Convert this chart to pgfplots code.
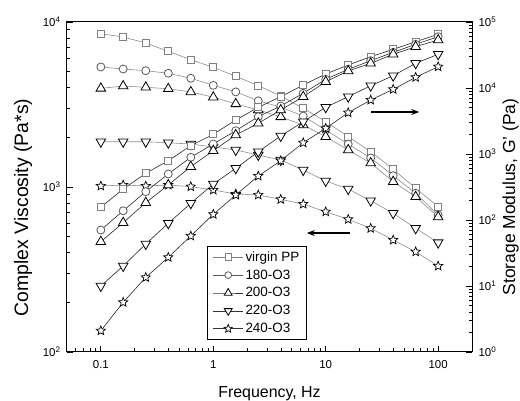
\documentclass[border=0pt]{standalone}
\usepackage{pgfplots}
\pgfplotsset{compat=1.18}
\usepackage{pgfplotstable}
\usepackage{fontspec}
\setmainfont{Liberation Sans}
\usetikzlibrary{calc,arrows.meta}

\pgfdeclareplotmark{ostar}{%
  \pgfpathmoveto{\pgfqpointpolar{90}{\pgfplotmarksize}}%
  \pgfpathlineto{\pgfqpointpolar{126}{0.45\pgfplotmarksize}}%
  \pgfpathlineto{\pgfqpointpolar{162}{\pgfplotmarksize}}%
  \pgfpathlineto{\pgfqpointpolar{198}{0.45\pgfplotmarksize}}%
  \pgfpathlineto{\pgfqpointpolar{234}{\pgfplotmarksize}}%
  \pgfpathlineto{\pgfqpointpolar{270}{0.45\pgfplotmarksize}}%
  \pgfpathlineto{\pgfqpointpolar{306}{\pgfplotmarksize}}%
  \pgfpathlineto{\pgfqpointpolar{342}{0.45\pgfplotmarksize}}%
  \pgfpathlineto{\pgfqpointpolar{18}{\pgfplotmarksize}}%
  \pgfpathlineto{\pgfqpointpolar{54}{0.45\pgfplotmarksize}}%
  \pgfpathclose
  \pgfusepathqfillstroke
}

\pgfplotstableread{
f pp c180 c200 c220 c240
0.1 8490 5340 3960 1880 1014
0.158 8110 5190 4090 1880 1028
0.251 7460 5070 4020 1880 1014
0.398 6640 4890 3940 1855 1028
0.631 5910 4560 3770 1820 1005
1 5310 4130 3500 1750 959
1.585 4690 3770 3190 1676 907
2.512 4110 3330 2930 1563 895
3.981 3560 3050 2660 1457 842
6.31 3000 2690 2375 1268 788
10 2490 2215 2018 1088 708
15.85 2020 1820 1676 972 637
25.12 1637 1500 1397 826 562
39.81 1280 1171 1077 693 477
63.1 982 916 873 562 405
100 760 676 658 460 332
}\visc

\pgfplotstableread{
f pp c180 c200 c220 c240
0.1 156 70.5 46.9 10 2.1
0.158 295 138 91 20.1 5.66
0.251 510 269 183 43.3 13.5
0.398 791 498 339 89.1 27.2
0.631 1337 891 643 179 57.3
1 1988 1419 1122 351 122
1.585 3273 2254 1941 607 239
2.512 5100 3673 2917 1084 464
3.981 7380 5336 4645 1874 791
6.31 11100 8318 7380 3083 1483
10 16300 13550 12450 5100 2449
15.85 22300 19190 18110 7380 4227
25.12 29800 25940 23660 10840 6577
39.81 38500 34750 32430 15350 9550
63.1 50300 45920 42270 23660 14520
100 65100 59840 53330 32430 21040
}\gmod

\pgfplotsset{
  mpp/.style={mark=square*, mark size=3.5bp, mark options={solid, fill=white, draw=black!50, line width=0.8bp}},
  m180/.style={mark=*, mark size=4bp, mark options={solid, fill=white, draw=black!65, line width=0.8bp}},
  m200/.style={mark=triangle*, mark size=5.5bp, mark options={solid, fill=white, draw=black, line width=0.8bp}},
  m220/.style={mark=triangle*, mark size=5.5bp, mark options={solid, fill=white, draw=black, line width=0.8bp, rotate=180}},
  m240/.style={mark=ostar, mark size=4.8bp, mark options={solid, fill=white, draw=black, line width=0.7bp}},
  vline/.style={draw=black!45, line width=0.6bp},
  gline/.style={draw=black!85, line width=0.6bp},
}

\begin{document}
\begin{tikzpicture}
\begin{axis}[
  name=ax1,
  scale only axis, width=405bp, height=330bp,
  xmode=log, ymode=log,
  xmin=0.05, xmax=200, ymin=100, ymax=10000,
  axis line style={line width=1bp},
  tick align=inside,
  xtick pos=lower, ytick pos=lower,
  xtick={0.1,1,10,100}, xticklabels={0.1,1,10,100},
  minor xtick={0.06,0.07,0.08,0.09,0.2,0.3,0.4,0.5,0.6,0.7,0.8,0.9,2,3,4,5,6,7,8,9,20,30,40,50,60,70,80,90},
  ytick={100,1000,10000},
  yticklabels={10\textsuperscript{2},10\textsuperscript{3},10\textsuperscript{4}},
  minor ytick={200,300,400,500,600,700,800,900,2000,3000,4000,5000,6000,7000,8000,9000},
  major tick length=6bp, minor tick length=3.5bp,
  every tick/.style={black, line width=0.8bp},
  tick label style={font=\fontsize{11.5}{13}\selectfont},
  xticklabel style={yshift=-5bp},
  yticklabel style={xshift=-3bp},
  clip=false,
]
\addplot[vline, mpp] table[x=f, y=pp] {\visc};
\addplot[vline, m180] table[x=f, y=c180] {\visc};
\addplot[vline, m200] table[x=f, y=c200] {\visc};
\addplot[vline, m220] table[x=f, y=c220] {\visc};
\addplot[vline, m240] table[x=f, y=c240] {\visc};
\draw[-{Stealth[length=8bp,width=6bp]}, line width=1.8bp] (axis cs:25.5,2848) -- (axis cs:67.9,2848);
\draw[-{Stealth[length=8bp,width=6bp]}, line width=1.8bp] (axis cs:16.3,526) -- (axis cs:6.79,526);
\node[rotate=90, font=\fontsize{19.5}{22}\selectfont, inner sep=0pt] at ([xshift=-44bp]rel axis cs:0,0.438) {Complex Viscosity (Pa*s)};
\node[font=\fontsize{16}{18}\selectfont, inner sep=0pt, anchor=base] at ([yshift=-46bp]rel axis cs:0.5,0) {Frequency, Hz};
\end{axis}
\begin{axis}[
  scale only axis, width=405bp, height=330bp,
  xmode=log, ymode=log,
  xmin=0.05, xmax=200, ymin=1, ymax=100000,
  hide x axis,
  axis y line*=right,
  axis line style={line width=1bp},
  tick align=inside,
  ytick={1,10,100,1000,10000,100000},
  yticklabels={10\textsuperscript{0},10\textsuperscript{1},10\textsuperscript{2},10\textsuperscript{3},10\textsuperscript{4},10\textsuperscript{5}},
  minor ytick={2,3,4,5,6,7,8,9,20,30,40,50,60,70,80,90,200,300,400,500,600,700,800,900,2000,3000,4000,5000,6000,7000,8000,9000,20000,30000,40000,50000,60000,70000,80000,90000},
  major tick length=6bp, minor tick length=3.5bp,
  every tick/.style={black, line width=0.8bp},
  tick label style={font=\fontsize{11.5}{13}\selectfont},
  yticklabel style={xshift=3bp},
  clip=false,
  legend style={at={(rel axis cs:0.3457,0.321)}, anchor=north west, draw=black, line width=0.8bp, fill=white,
    font=\fontsize{13.5}{15}\selectfont, row sep=3bp, inner xsep=5.5bp, inner ysep=3bp},
  legend cell align=left,
  legend image code/.code={\draw[#1, mark repeat=2, mark phase=2] plot coordinates {(0bp,0bp) (15bp,0bp) (30bp,0bp)};},
]
\addplot[gline, mpp, forget plot] table[x=f, y=pp] {\gmod};
\addplot[gline, m180, forget plot] table[x=f, y=c180] {\gmod};
\addplot[gline, m200, forget plot] table[x=f, y=c200] {\gmod};
\addplot[gline, m220, forget plot] table[x=f, y=c220] {\gmod};
\addplot[gline, m240, forget plot] table[x=f, y=c240] {\gmod};
\addlegendimage{draw=black!50, line width=0.6bp, mark=square*, mark size=3.2bp, mark options={solid, fill=white, draw=black!50, line width=0.8bp}}
\addlegendentry{virgin PP}
\addlegendimage{draw=black!65, line width=0.6bp, mark=*, mark size=3.4bp, mark options={solid, fill=white, draw=black!65, line width=0.8bp}}
\addlegendentry{180-O3}
\addlegendimage{draw=black!80, line width=0.6bp, mark=triangle*, mark size=4.5bp, mark options={solid, fill=white, draw=black, line width=0.8bp}}
\addlegendentry{200-O3}
\addlegendimage{draw=black!80, line width=0.6bp, mark=triangle*, mark size=4.5bp, mark options={solid, fill=white, draw=black, line width=0.8bp, rotate=180}}
\addlegendentry{220-O3}
\addlegendimage{draw=black!80, line width=0.6bp, mark=ostar, mark size=4.3bp, mark options={solid, fill=white, draw=black, line width=0.7bp}}
\addlegendentry{240-O3}
\node[rotate=90, font=\fontsize{17.5}{20}\selectfont, inner sep=0pt] at ([xshift=38.5bp]rel axis cs:1,0.47) {Storage Modulus, G' (Pa)};
\end{axis}
\pgfresetboundingbox
\path[use as bounding box] ($(ax1.south west)+(-67bp,-49bp)$) rectangle ($(ax1.north east)+(48bp,22bp)$);
\end{tikzpicture}
\end{document}
